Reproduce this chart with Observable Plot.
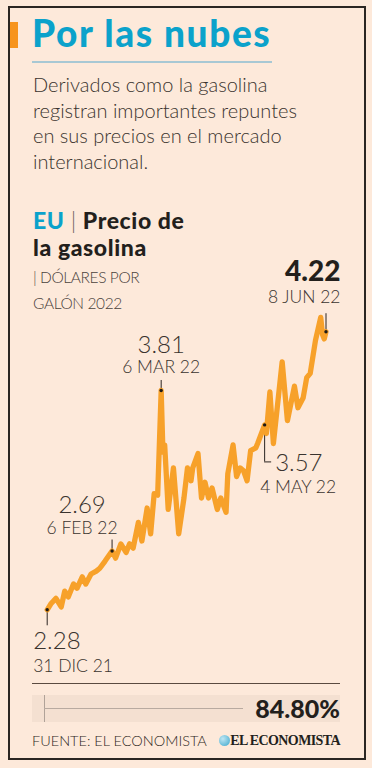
<!DOCTYPE html>
<html>
<head>
<meta charset="utf-8">
<script src="https://cdn.jsdelivr.net/npm/d3@7"></script>
<script src="https://cdn.jsdelivr.net/npm/@observablehq/plot@0.6"></script>
<style>
  html, body { margin:0; padding:0; background:#fde9da; }
  #page { position:relative; width:372px; height:768px; overflow:hidden; background:#fde9da; font-family:Lato, sans-serif; color:#3a332e; }
  .abs { position:absolute; white-space:nowrap; }
  #frame { position:absolute; left:8px; top:6px; width:354px; height:750px; border:2.5px solid #2b2622; box-sizing:content-box; }
  #chart { position:absolute; left:0; top:250px; }
</style>
</head>
<body>
<div id="page">
  <div id="frame"></div>
  <div class="abs" style="left:10px;top:22px;width:8px;height:26px;background:#f7941d;"></div>
  <div class="abs" style="left:32px;top:10px;font-size:37px;font-weight:900;color:#0ba2cb;letter-spacing:1.6px;">Por las nubes</div>
  <div class="abs" style="left:32px;top:61px;width:240px;height:1.5px;background:#a8c8d4;"></div>
  <div class="abs" style="left:33px;top:72px;font-size:20px;font-weight:300;line-height:25.5px;color:#3a332e;">Derivados como la gasolina<br>registran importantes repuntes<br>en sus precios en el mercado<br>internacional.</div>
  <div class="abs" style="left:33px;top:207px;font-size:23px;font-weight:900;line-height:27px;color:#231f1c;letter-spacing:0.6px;"><span style="color:#0ba2cb">EU</span> <span style="font-weight:300;color:#6a625c">|</span> Precio de<br>la gasolina</div>
  <div class="abs" style="left:33px;top:264px;font-size:15.5px;font-weight:300;line-height:26px;color:#4a423c;letter-spacing:-0.4px;">| DÓLARES POR<br>GALÓN 2022</div>

  <div id="chart"></div>

  <div class="abs" style="left:32px;top:683px;width:308px;height:1px;background:#5a4a40;"></div>
  <div class="abs" style="left:32px;top:695px;width:308px;height:27px;background:#f4e0d1;"></div>
  <div class="abs" style="left:44px;top:695px;width:1px;height:27px;background:#b0a298;"></div>
  <div class="abs" style="left:44px;top:708px;width:199px;height:1px;background:#b8aaa0;"></div>
  <div class="abs" style="right:32px;top:693px;font-size:25px;font-weight:900;color:#231f1c;line-height:30px;">84.80%</div>
  <div class="abs" style="left:32px;top:731px;font-size:14.5px;font-weight:300;color:#2e2824;line-height:20px;">FUENTE: EL ECONOMISTA</div>
  <div class="abs" style="left:219px;top:735px;width:11px;height:11px;border-radius:50%;background:radial-gradient(circle at 35% 35%, #bfe6f3, #3aa6cc);"></div>
  <div class="abs" style="right:32px;top:731px;font-family:'Liberation Serif', serif;font-size:14px;font-weight:700;color:#231f1c;letter-spacing:-0.6px;line-height:20px;">EL ECONOMISTA</div>
</div>
<script>
// US gasoline price readings (USD per gallon), Dec 31 2021 – Jun 8 2022
const dates = ["2021-12-31","2022-01-02","2022-01-05","2022-01-08","2022-01-10","2022-01-12","2022-01-15","2022-01-17","2022-01-20","2022-01-22","2022-01-25","2022-01-28","2022-01-30","2022-02-02","2022-02-06","2022-02-08","2022-02-11","2022-02-14","2022-02-16","2022-02-18","2022-02-21","2022-02-23","2022-02-26","2022-02-28","2022-03-02","2022-03-04","2022-03-06","2022-03-07","2022-03-08","2022-03-10","2022-03-13","2022-03-16","2022-03-19","2022-03-21","2022-03-23","2022-03-24","2022-03-27","2022-03-29","2022-03-31","2022-04-02","2022-04-04","2022-04-07","2022-04-09","2022-04-12","2022-04-13","2022-04-16","2022-04-18","2022-04-20","2022-04-22","2022-04-24","2022-04-26","2022-04-29","2022-04-30","2022-05-04","2022-05-05","2022-05-07","2022-05-09","2022-05-14","2022-05-17","2022-05-21","2022-05-23","2022-05-26","2022-05-28","2022-05-30","2022-06-02","2022-06-05","2022-06-06","2022-06-07","2022-06-08"];
const prices = [2.28,2.32,2.36,2.30,2.41,2.37,2.46,2.43,2.51,2.46,2.53,2.55,2.57,2.62,2.69,2.64,2.74,2.68,2.74,2.71,2.89,2.76,2.99,2.81,3.09,3.08,3.81,3.38,3.43,2.98,3.27,2.81,3.06,3.27,3.18,3.27,3.37,3.06,3.17,3.06,3.13,2.98,3.06,2.96,3.23,3.43,3.21,3.27,3.25,3.18,3.39,3.41,3.44,3.57,3.51,3.80,3.44,4.01,3.60,3.84,3.69,3.76,3.90,3.93,4.16,4.32,4.20,4.17,4.22];

const annoDates  = ["2021-12-31","2022-02-06","2022-03-06","2022-05-04","2022-06-08"];
const annoValues = [2.28, 2.69, 3.81, 3.57, 4.22];
const annoLabels = ["31 DIC 21","6 FEB 22","6 MAR 22","4 MAY 22","8 JUN 22"];

const data = dates.map((d, i) => ({date: new Date(d + "T00:00:00Z"), value: prices[i]}));
const annos = annoDates.map((d, i) => ({date: new Date(d + "T00:00:00Z"), value: annoValues[i], label: annoLabels[i], idx: i}));

// layout (pixels) for each annotation
const pxPerUnit = 143.3;
const leaderPx = [16, -11, -10, 37, -18];   // + down, - up
const layout = [
  {anchor:"start",  dxV:-14,  dxD:-14,  dyV:32,  dyD:57},
  {anchor:"middle", dxV:-30,  dxD:-30,  dyV:-46, dyD:-23},
  {anchor:"middle", dxV:0,    dxD:0,    dyV:-45, dyD:-23},
  {anchor:"start",  dxV:10.5, dxD:-4.5, dyV:38,  dyD:62},
  {anchor:"end",    dxV:14.5, dxD:14.5, dyV:-60, dyD:-34, big:true}
];

const W = 372, H = 430, chartTop = 250;
const marks = [];
marks.push(Plot.ruleX(annos, {x:"date", y1:"value", y2: d => d.value - leaderPx[d.idx] / pxPerUnit, stroke:"#2a2420", strokeWidth:1}));
marks.push(Plot.ruleY(annos.filter(d => d.idx === 3), {y: d => d.value - leaderPx[3] / pxPerUnit, x1:"date", x2: d => new Date(+d.date + 4 * 864e5), stroke:"#2a2420", strokeWidth:1}));
marks.push(Plot.line(data, {x:"date", y:"value", stroke:"#f7a12a", strokeWidth:5.3, strokeLinejoin:"round", strokeLinecap:"round"}));
marks.push(Plot.dot(annos, {x:"date", y:"value", r:1.7, fill:"#1e1a17"}));
annos.forEach((a, i) => {
  const L = layout[i];
  marks.push(Plot.text([a], {x:"date", y:"value", text: d => d.value.toFixed(2), textAnchor:L.anchor, dx:L.dxV, dy:L.dyV,
    fontSize: L.big ? 28 : 24, fontWeight: L.big ? 900 : 300, fill: L.big ? "#231f1c" : "#3a332e"}));
  marks.push(Plot.text([a], {x:"date", y:"value", text:"label", textAnchor:L.anchor, dx:L.dxD, dy:L.dyD,
    fontSize: 17.5, fontWeight:300, fill:"#3a332e"}));
});

const chart = Plot.plot({
  width: W, height: H,
  marginTop:0, marginRight:0, marginBottom:0, marginLeft:0,
  style: {background:"transparent", fontFamily:"Lato, sans-serif", overflow:"visible"},
  x: {type:"utc", domain:[new Date("2021-12-31T00:00:00Z"), new Date("2022-06-08T00:00:00Z")], range:[46.7, 325.5], axis:null},
  y: {type:"linear", domain:[2.28, 3.81], range:[609.3 - chartTop, 390 - chartTop], axis:null},
  marks
});
document.getElementById("chart").appendChild(chart);
</script>
</body>
</html>
